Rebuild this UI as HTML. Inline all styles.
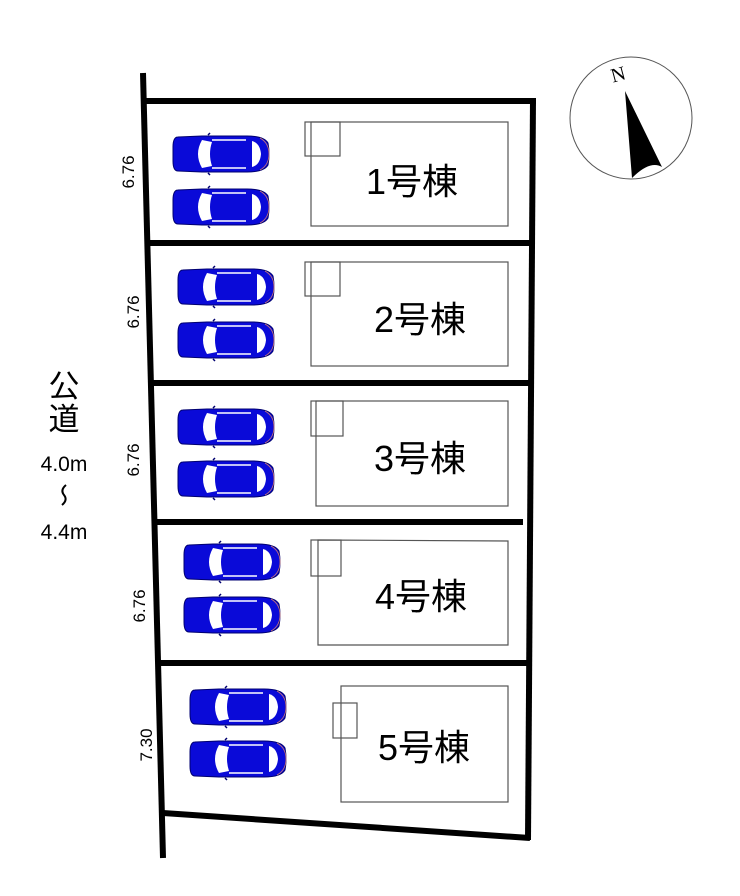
<!DOCTYPE html>
<html><head><meta charset="utf-8"><style>
html,body{margin:0;padding:0;background:#fff;}
svg{display:block}
text{font-family:"Liberation Sans","Noto Sans CJK JP",sans-serif;fill:#000}
</style></head><body>
<svg width="740" height="896" viewBox="0 0 740 896" xmlns="http://www.w3.org/2000/svg">
<defs>
<g id="car">
<path d="M6,2 Q1,2 1,12 L1,26 Q1,36 6,36 L30,37 L75,37 Q92,37 96,30 Q98,19 96,8 Q92,1 75,1 L30,1 Z" fill="#0a0ad8" stroke="#000070" stroke-width="1"/>
<path d="M30,5 Q22,19 30,33 L40,31 Q36,19 40,7 Z" fill="#fff"/>
<path d="M80,6 Q88,8 89,19 Q88,30 80,32 Z" fill="#fff"/>
<path d="M40,5 L74,5 M40,33 L74,33" stroke="#fff" stroke-width="1.5"/>
<path d="M36,0 L38,-2 M36,38 L38,40" stroke="#000070" stroke-width="1.5"/>
<path d="M88,3 Q97,8 97,19 Q97,30 88,35" stroke="#c77" stroke-width="0.8" fill="none"/>
</g>
</defs>
<g stroke="#000" stroke-width="6" fill="none">
<line x1="143" y1="73" x2="163" y2="858"/>
<line x1="533" y1="99" x2="528" y2="840"/>
<line x1="143" y1="101" x2="536" y2="101"/>
<line x1="150" y1="243" x2="531" y2="243"/>
<line x1="152" y1="383" x2="531" y2="383"/>
<line x1="153" y1="522" x2="523" y2="522"/>
<line x1="157" y1="663" x2="530" y2="663"/>
<line x1="163" y1="813" x2="530" y2="838"/>
</g>
<g stroke="#555" stroke-width="1.2" fill="none">
<rect x="311" y="122" width="197" height="104"/><rect x="305" y="122" width="35" height="34"/>
<rect x="311" y="262" width="197" height="104"/><rect x="305" y="262" width="35" height="34"/>
<rect x="316" y="401" width="192" height="105"/><rect x="311" y="401" width="32" height="35"/>
<path d="M318,540 L508,541 L508,645 L318,645 Z"/><rect x="311" y="540" width="30" height="36"/>
<rect x="341" y="686" width="167" height="116"/><rect x="333" y="703" width="24" height="35"/>
</g>
<use href="#car" x="172" y="135"/><use href="#car" x="172" y="188"/>
<use href="#car" x="177" y="268"/><use href="#car" x="177" y="321"/>
<use href="#car" x="177" y="408"/><use href="#car" x="177" y="460"/>
<use href="#car" x="183" y="543"/><use href="#car" x="183" y="596"/>
<use href="#car" x="189" y="688"/><use href="#car" x="189" y="740"/>
<g font-size="36" text-anchor="middle">
<text x="412" y="194">1号棟</text>
<text x="420" y="332">2号棟</text>
<text x="420" y="471">3号棟</text>
<text x="421" y="609">4号棟</text>
<text x="424" y="760">5号棟</text>
</g>
<g font-size="17" text-anchor="middle">
<text transform="translate(134,172) rotate(-90)">6.76</text>
<text transform="translate(139,312) rotate(-90)">6.76</text>
<text transform="translate(139,460) rotate(-90)">6.76</text>
<text transform="translate(145,606) rotate(-90)">6.76</text>
<text transform="translate(152,745) rotate(-90)">7.30</text>
</g>
<g text-anchor="middle">
<text x="64" y="397" font-size="31">公</text>
<text x="64" y="430" font-size="31">道</text>
<text x="64" y="471" font-size="21">4.0m</text>
<path d="M66,485 Q60,490 64,495 Q68,500 62,505" stroke="#000" stroke-width="2" fill="none"/>
<text x="64" y="539" font-size="21">4.4m</text>
</g>
<circle cx="631" cy="118" r="61" fill="#fff" stroke="#555" stroke-width="1"/>
<text x="618" y="81" font-size="20" transform="rotate(-15 618 74)" text-anchor="middle" style="font-family:'Liberation Serif',serif">N</text>
<path d="M625,91 L662,167 Q650,160 632,178 Z" fill="#000"/>
</svg>
</body></html>
